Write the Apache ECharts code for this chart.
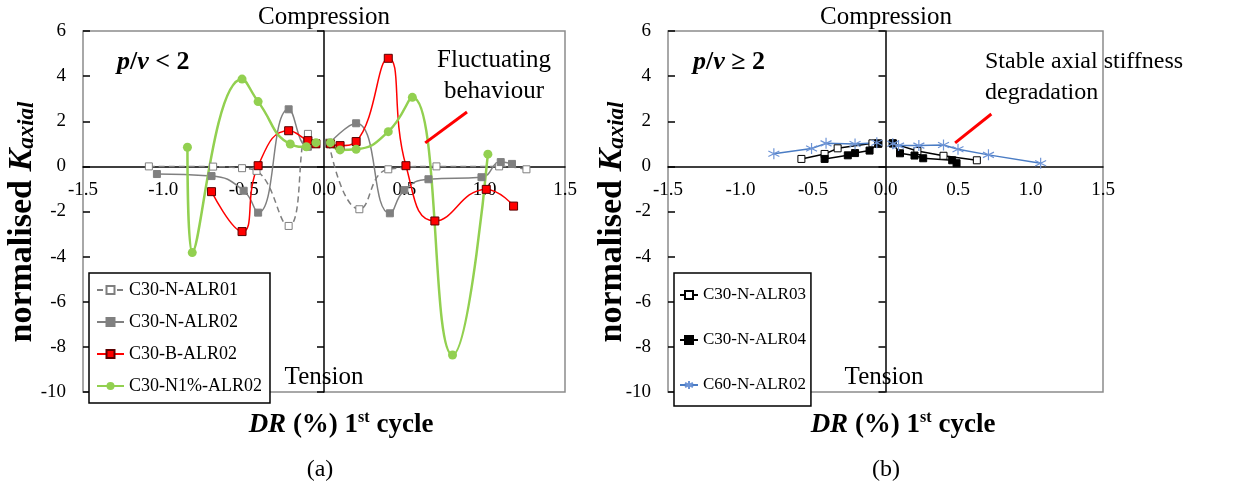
<!DOCTYPE html>
<html>
<head>
<meta charset="utf-8">
<title>normalised K axial vs DR</title>
<script src="https://cdn.jsdelivr.net/npm/echarts@6/dist/echarts.min.js"></script>
<style>
  html, body { margin: 0; padding: 0; background: #fff; }
  #chart { width: 1252px; height: 488px; }
</style>
</head>
<body>
<div id="chart"></div>
<script>
// axis ranges (both panels)
const xMin = -1.5, xMax = 1.5, xStep = 0.5;
const yMin = -10, yMax = 6, yStep = 2;

// panel (a): p/v < 2   [DR %, normalised K]  '-' = gap between negative and positive branch
const c30NALR01 = [[-1.09, 0.0], [-0.69, -0.01], [-0.51, -0.08], [-0.42, -0.2], [-0.22, -2.64], [-0.10, 1.44], [-0.05, 1.0], '-',
  [0.03, 1.05], [0.22, -1.9], [0.40, -0.13], [0.70, 0.0], [1.09, 0.0], [1.26, -0.13]];
const c30NALR02 = [[-1.04, -0.34], [-0.70, -0.43], [-0.50, -1.08], [-0.41, -2.05], [-0.22, 2.53], [-0.10, 0.87], [-0.05, 1.0], '-',
  [0.03, 1.0], [0.20, 1.91], [0.41, -2.08], [0.50, -1.05], [0.65, -0.57], [0.98, -0.48], [1.10, 0.19], [1.17, 0.11]];
const c30BALR02 = [[-0.70, -1.12], [-0.51, -2.89], [-0.41, 0.03], [-0.22, 1.58], [-0.10, 1.14], [-0.05, 1.0], '-',
  [0.04, 1.0], [0.10, 0.92], [0.20, 1.1], [0.40, 4.79], [0.51, 0.03], [0.69, -2.42], [1.01, -1.02], [1.18, -1.76]];
const c30N1ALR02 = [[-0.85, 0.85], [-0.82, -3.82], [-0.51, 3.87], [-0.41, 2.87], [-0.21, 0.99], [-0.11, 0.87], [-0.05, 1.05], '-',
  [0.04, 1.05], [0.10, 0.73], [0.20, 0.76], [0.40, 1.54], [0.55, 3.06], [0.80, -8.36], [1.02, 0.54]];

// panel (b): p/v >= 2
const c30NALR03 = [[-0.58, 0.33], [-0.42, 0.55], [-0.33, 0.8], [-0.09, 1.02], [-0.05, 1.0], '-',
  [0.05, 1.02], [0.22, 0.68], [0.40, 0.47], [0.63, 0.27]];
const c30NALR04 = [[-0.42, 0.33], [-0.26, 0.49], [-0.21, 0.59], [-0.11, 0.7], [-0.05, 1.02], '-',
  [0.05, 1.02], [0.10, 0.58], [0.20, 0.48], [0.26, 0.36], [0.46, 0.27], [0.49, 0.14]];
const c60NALR02 = [[-0.77, 0.56], [-0.51, 0.79], [-0.41, 1.02], [-0.21, 0.99], [-0.06, 1.05], '-',
  [0.05, 1.0], [0.09, 0.92], [0.23, 0.92], [0.40, 0.95], [0.50, 0.76], [0.71, 0.51], [1.07, 0.14]];

// arrow annotations (data coords: start -> tip)
const arrowA = [[0.89, 2.41], [0.63, 1.04]];
const arrowB = [[0.73, 2.32], [0.48, 1.04]];

const FONT = "Liberation Serif";
const GRID_H = 361;
const starPath = "path://M10 0 L10 20 M1.34 5 L18.66 15 M1.34 15 L18.66 5";

const chart = echarts.init(document.getElementById("chart"));

function xAxisFor(gridIndex) {
  // axis is drawn at the bottom edge and lifted up to K = 0
  return {
    type: "value", gridIndex: gridIndex, min: xMin, max: xMax, interval: xStep,
    position: "bottom",
    offset: -GRID_H * (0 - yMin) / (yMax - yMin),
    axisLine: { onZero: false, lineStyle: { color: "#000", width: 1.5 } },
    axisTick: { show: false },
    splitLine: { show: false },
    axisLabel: { color: "#000", fontFamily: FONT, fontSize: 19, margin: 14,
      formatter: function (v) { return v.toFixed(1); } }
  };
}

function yAxesFor(gridIndex) {
  const base = { type: "value", gridIndex: gridIndex, min: yMin, max: yMax, interval: yStep,
    position: "left", splitLine: { show: false } };
  return [
    // labels on the left border
    Object.assign({}, base, {
      axisLine: { show: false, onZero: false }, axisTick: { show: false },
      axisLabel: { color: "#000", fontFamily: FONT, fontSize: 19, margin: 17 }
    }),
    // vertical line through DR = 0, ticks out
    Object.assign({}, base, {
      axisLine: { onZero: true, lineStyle: { color: "#000", width: 1.5 } },
      axisTick: { show: true, length: 7, lineStyle: { color: "#000", width: 1.5 } },
      axisLabel: { show: false }
    }),
    // same, ticks in
    Object.assign({}, base, {
      axisLine: { show: false, onZero: true },
      axisTick: { show: true, inside: true, length: 7, lineStyle: { color: "#000", width: 1.5 } },
      axisLabel: { show: false }
    })
  ];
}

function arrowLine(pts) {
  return {
    silent: true, symbol: ["none", "arrow"], symbolSize: [0, 15],
    label: { show: false },
    lineStyle: { color: "#ff0000", width: 3, type: "solid" },
    data: [[{ coord: pts[0] }, { coord: pts[1] }]]
  };
}

function txt(x, y, text, extra) {
  return { type: "text", x: x, y: y, silent: true,
    style: Object.assign({ text: text, fill: "#000", fontFamily: FONT, fontSize: 25,
      align: "center", verticalAlign: "middle" }, extra || {}) };
}

const yNameRich = {
  n: { fontFamily: FONT, fontSize: 34, fontWeight: "bold", lineHeight: 34 },
  k: { fontFamily: FONT, fontSize: 34, fontWeight: "bold", fontStyle: "italic", lineHeight: 34 },
  s: { fontFamily: FONT, fontSize: 23, fontWeight: "bold", fontStyle: "italic", lineHeight: 16, verticalAlign: "bottom" }
};
const xNameRich = {
  i: { fontFamily: FONT, fontSize: 27, fontWeight: "bold", fontStyle: "italic", lineHeight: 30 },
  b: { fontFamily: FONT, fontSize: 27, fontWeight: "bold", lineHeight: 30 },
  sup: { fontFamily: FONT, fontSize: 16, fontWeight: "bold", lineHeight: 20, verticalAlign: "top" }
};
const pvRich = {
  a: { fontFamily: FONT, fontSize: 26, fontWeight: "bold", fontStyle: "italic" },
  b: { fontFamily: FONT, fontSize: 26, fontWeight: "bold" }
};

const option = {
  animation: false,
  backgroundColor: "#fff",
  grid: [
    { left: 83, top: 31, width: 482, height: GRID_H, show: true, borderColor: "#8c8c8c", borderWidth: 1.5, backgroundColor: "transparent" },
    { left: 668, top: 31, width: 435, height: GRID_H, show: true, borderColor: "#8c8c8c", borderWidth: 1.5, backgroundColor: "transparent" }
  ],
  xAxis: [xAxisFor(0), xAxisFor(1)],
  yAxis: yAxesFor(0).concat(yAxesFor(1)),
  legend: [
    {
      data: ["C30-N-ALR01", "C30-N-ALR02", "C30-B-ALR02", "C30-N1%-ALR02"],
      orient: "vertical", left: 89, top: 273, itemWidth: 27, itemHeight: 10, itemGap: 12,
      padding: [7, 8, 7, 7], borderColor: "#000", borderWidth: 1.5, backgroundColor: "#fff",
      textStyle: { fontFamily: FONT, fontSize: 18, color: "#000", lineHeight: 20 }
    },
    {
      data: ["C30-N-ALR03", "C30-N-ALR04", "C60-N-ALR02"],
      orient: "vertical", left: 674, top: 273, itemWidth: 18, itemHeight: 10, itemGap: 25,
      padding: [12, 5, 11, 5], borderColor: "#000", borderWidth: 1.5, backgroundColor: "#fff",
      textStyle: { fontFamily: FONT, fontSize: 17, color: "#000", lineHeight: 20 }
    }
  ],
  series: [
    {
      name: "C30-N-ALR01", type: "line", xAxisIndex: 0, yAxisIndex: 0, data: c30NALR01, smooth: 0.5,
      symbol: "rect", symbolSize: 7,
      lineStyle: { color: "#7f7f7f", width: 1.5, type: [6, 4] },
      itemStyle: { color: "#fff", borderColor: "#7f7f7f", borderWidth: 1 }
    },
    {
      name: "C30-N-ALR02", type: "line", xAxisIndex: 0, yAxisIndex: 0, data: c30NALR02, smooth: 0.5,
      symbol: "rect", symbolSize: 7,
      lineStyle: { color: "#808080", width: 1.5 },
      itemStyle: { color: "#808080", borderColor: "#808080", borderWidth: 1 }
    },
    {
      name: "C30-B-ALR02", type: "line", xAxisIndex: 0, yAxisIndex: 0, data: c30BALR02, smooth: 0.5,
      symbol: "rect", symbolSize: 8,
      lineStyle: { color: "#ff0000", width: 1.5 },
      itemStyle: { color: "#ff0000", borderColor: "#5a0000", borderWidth: 1 }
    },
    {
      name: "C30-N1%-ALR02", type: "line", xAxisIndex: 0, yAxisIndex: 0, data: c30N1ALR02, smooth: 0.5,
      symbol: "circle", symbolSize: 9,
      lineStyle: { color: "#92d050", width: 2.5 },
      itemStyle: { color: "#92d050", borderColor: "#92d050", borderWidth: 0 },
      markLine: arrowLine(arrowA)
    },
    {
      name: "C30-N-ALR03", type: "line", xAxisIndex: 1, yAxisIndex: 3, data: c30NALR03,
      symbol: "rect", symbolSize: 7,
      lineStyle: { color: "#000", width: 1.5 },
      itemStyle: { color: "#fff", borderColor: "#000", borderWidth: 1 }
    },
    {
      name: "C30-N-ALR04", type: "line", xAxisIndex: 1, yAxisIndex: 3, data: c30NALR04,
      symbol: "rect", symbolSize: 7,
      lineStyle: { color: "#000", width: 1.5 },
      itemStyle: { color: "#000", borderColor: "#000", borderWidth: 1 }
    },
    {
      name: "C60-N-ALR02", type: "line", xAxisIndex: 1, yAxisIndex: 3, data: c60NALR02,
      symbol: starPath, symbolSize: 11,
      lineStyle: { color: "#4a7cc4", width: 1.5 },
      itemStyle: { color: "#6f95d6", borderColor: "#6f95d6", borderWidth: 1.2 },
      markLine: arrowLine(arrowB)
    }
  ],
  graphic: [
    txt(324, 17, "Compression"),
    txt(324, 377, "Tension"),
    txt(886, 17, "Compression"),
    txt(884, 377, "Tension"),
    txt(117, 62, "{a|p}{b|/}{a|v}{b| < 2}", { align: "left", rich: pvRich }),
    txt(693, 62, "{a|p}{b|/}{a|v}{b| \u2265 2}", { align: "left", rich: pvRich }),
    txt(494, 76, "Fluctuating\nbehaviour", { lineHeight: 31 }),
    txt(985, 77, "Stable axial stiffness\ndegradation", { align: "left", fontSize: 24, lineHeight: 31 }),
    Object.assign(txt(22, 222, "{n|normalised }{k|K}{s|axial}", { rich: yNameRich }), { rotation: Math.PI / 2 }),
    Object.assign(txt(612, 222, "{n|normalised }{k|K}{s|axial}", { rich: yNameRich }), { rotation: Math.PI / 2 }),
    txt(341, 425, "{i|DR}{b| (%) 1}{sup|st}{b| cycle}", { rich: xNameRich }),
    txt(903, 425, "{i|DR}{b| (%) 1}{sup|st}{b| cycle}", { rich: xNameRich }),
    txt(320, 470, "(a)", { fontSize: 24 }),
    txt(886, 470, "(b)", { fontSize: 24 })
  ]
};

chart.setOption(option);
window.addEventListener("resize", function () { chart.resize(); });
</script>
</body>
</html>
